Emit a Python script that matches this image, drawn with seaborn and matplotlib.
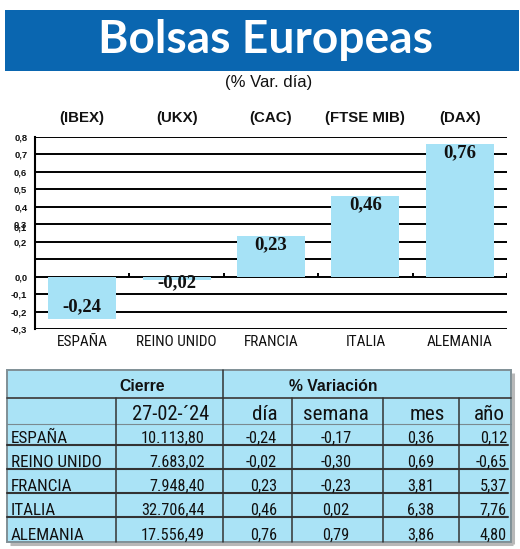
import numpy as np
import matplotlib
matplotlib.use("Agg")
import matplotlib.pyplot as plt
import matplotlib.transforms as mtransforms
from matplotlib.patches import Rectangle
from matplotlib import font_manager as fm
import seaborn as sns

# ---------------- data ----------------
categories = ["ESPAÑA", "REINO UNIDO", "FRANCIA", "ITALIA", "ALEMANIA"]
indices = ["(IBEX)", "(UKX)", "(CAC)", "(FTSE MIB)", "(DAX)"]
cierre = [10113.80, 7683.02, 7948.40, 32706.44, 17556.49]
dia = [-0.24, -0.02, 0.23, 0.46, 0.76]
semana = [-0.17, -0.30, -0.23, 0.02, 0.79]
mes = [0.36, 0.69, 3.81, 6.38, 3.86]
anio = [0.12, -0.65, 5.37, 7.76, 4.80]
yticks = [-0.3, -0.2, -0.1, 0.0, 0.1, 0.2, 0.3, 0.4, 0.5, 0.6, 0.7, 0.8]
title = "Bolsas Europeas"
subtitle = "(% Var. día)"
fecha = "27-02-´24"
col_headers = ["día", "semana", "mes", "año"]

# ---------------- style ----------------
BANNER = "#0a66b0"
BAR = "#a6e2f6"
TABLE_BG = "#aae3f6"

sns.set_theme(style="white")
plt.rcParams["font.family"] = ["Liberation Sans", "DejaVu Sans"]

names = {f.name for f in fm.fontManager.ttflist}
if "Liberation Sans Narrow" in names:
    NARROW = dict(family="Liberation Sans Narrow")
    NS = 1.0
elif "Roboto Condensed" in names:
    NARROW = dict(family="Roboto Condensed")
    NS = 0.95
elif "DejaVu Sans Condensed" in names:
    NARROW = dict(family="DejaVu Sans Condensed")
    NS = 0.9
else:
    NARROW = dict(family="Liberation Sans", stretch="condensed")
    NS = 0.85

W, H = 520, 549
fig = plt.figure(figsize=(W / 100, H / 100), dpi=100)
fig.patch.set_facecolor("white")

# ---------------- bar chart ----------------
ax = fig.add_axes([35 / W, 1 - 329 / H, (507 - 35) / W, (329 - 137) / H])
sns.barplot(x=categories, y=dia, color=BAR, saturation=1, width=0.72, ax=ax,
            edgecolor="none", linewidth=0)
ax.set_xlim(-0.5, len(categories) - 0.5)
ax.set_ylim(yticks[0], yticks[-1])
ax.set_yticks(yticks)
ylabels = [("" if abs(v - 0.1) < 1e-9 else f"{v:.1f}".replace(".", ",")) for v in yticks]
ax.set_yticklabels(ylabels, fontsize=6.8, fontweight="bold", color="#111")
ax.tick_params(axis="y", length=0, pad=5.5)
ax.tick_params(axis="x", length=0, pad=4.5)
for lab in ax.get_xticklabels():
    lab.set_fontfamily(NARROW["family"])
    if "stretch" in NARROW:
        lab.set_fontstretch(NARROW["stretch"])
    lab.set_fontsize(11.6 * NS)
    lab.set_color("#111")
ax.grid(axis="y", color="black", linewidth=1.4)
ax.grid(axis="x", visible=False)
ax.set_axisbelow(True)
for s in ["top", "right", "bottom"]:
    ax.spines[s].set_visible(False)
ax.spines["left"].set_color("black")
ax.spines["left"].set_linewidth(1.5)
ax.set_facecolor("none")
ax.set_xlabel("")
ax.set_ylabel("")

# quirky overlapping "0,1" label near 0,3 (as in the reference)
off = mtransforms.offset_copy(ax.get_yaxis_transform(), fig=fig, x=-5.5, y=-3, units="points")
ax.text(0, 0.3, "0,1", transform=off, ha="right", va="center", fontsize=6.8,
        fontweight="bold", color="#111")

# small boundary ticks on zero line
n = len(categories)
ax.vlines([i + 0.5 for i in range(n)], 0, 0.023, color="black", linewidth=1.4, zorder=3)

# bar value labels
for i, v in enumerate(dia):
    if v >= 0:
        ypos = v - 0.05
    elif abs(v) > 0.1:
        ypos = v + 0.065
    else:
        ypos = v - 0.017
    ax.text(i, ypos, f"{v:.2f}".replace(".", ","), ha="center", va="center",
            fontfamily="Liberation Serif", fontweight="bold", fontsize=13.5,
            color="#111", zorder=4)

# index labels above the chart
bt = mtransforms.blended_transform_factory(ax.transData, fig.transFigure)
for i, lab in enumerate(indices):
    ax.text(i, 1 - 118 / H, lab, transform=bt, ha="center", va="center",
            fontsize=10.8, fontweight="bold", color="#111")

# ---------------- overlay (banner, subtitle, table) ----------------
ov = fig.add_axes([0, 0, 1, 1], zorder=-1)
ov.set_xlim(0, W)
ov.set_ylim(H, 0)
ov.axis("off")

ov.add_patch(Rectangle((5, 10), 514, 60.5, facecolor=BANNER, edgecolor="none"))
tt = ov.text(266, 53, title, ha="center", va="baseline", color="white",
             fontfamily="Lato", fontweight="bold", fontsize=32)
ov.text(269, 83, subtitle, ha="center", va="center", fontsize=12, color="#111")

fig.canvas.draw()
bb = tt.get_window_extent()
tt.set_fontsize(32 * 335 / bb.width)

# table
L, R, T, B = 7, 511, 370, 542
h1b, h2b = 398, 424
row_b = [445, 469, 493, 517, 542]

# shadow
ov.plot([R + 2, R + 2], [T + 3, B + 2], color="#b8b8b8", lw=2.2, solid_capstyle="butt")
ov.plot([L + 3, R + 2], [B + 2, B + 2], color="#b8b8b8", lw=2.2, solid_capstyle="butt")
ov.add_patch(Rectangle((L, T), R - L, B - T, facecolor=TABLE_BG, edgecolor="#7f8f96", lw=1.4))

ov.plot([L, R], [h1b, h1b], color="#444", lw=1.3)
ov.plot([L, R], [h2b, h2b], color="#7a8a90", lw=0.8)
for yb in row_b[:-1]:
    ov.plot([L, 508], [yb, yb], color="#333", lw=1.5)
ov.plot([223, 223], [T, B], color="#333", lw=1.1)
for xc in [116, 292, 383, 459]:
    ov.plot([xc, xc], [h1b, B], color="#333", lw=1.1)

def ntext(x, y, s, ha, size):
    kw = dict(fontfamily=NARROW["family"])
    if "stretch" in NARROW:
        kw["fontstretch"] = NARROW["stretch"]
    ov.text(x, y, s, ha=ha, va="baseline", fontsize=size * NS, color="#111", **kw)

ov.text(142, 391, "Cierre", ha="center", va="baseline", fontsize=11.3,
        fontweight="bold", color="#111")
ov.text(333, 391, "% Variación", ha="center", va="baseline", fontsize=11.3,
        fontweight="bold", color="#111")

ntext(171, 420, fecha, "center", 15.5)
hdr_x = [265, 336, 427, 489]
for x, s in zip(hdr_x, col_headers):
    ntext(x, 420, s, "center", 16)

def fmt2(v):
    return f"{v:.2f}".replace(".", ",")

def fmt_thousands(v):
    return f"{v:,.2f}".replace(",", "X").replace(".", ",").replace("X", ".")

for r in range(len(categories)):
    yb = row_b[r] - 2
    ntext(11, yb, categories[r], "left", 13.0)
    ntext(205, yb, fmt_thousands(cierre[r]), "right", 12.3)
    ntext(277, yb, fmt2(dia[r]), "right", 12.3)
    ntext(336, yb, fmt2(semana[r]), "center", 12.3)
    ntext(421, yb, fmt2(mes[r]), "center", 12.3)
    ntext(507, yb, fmt2(anio[r]), "right", 12.3)

fig.savefig("out.png", dpi=100)
